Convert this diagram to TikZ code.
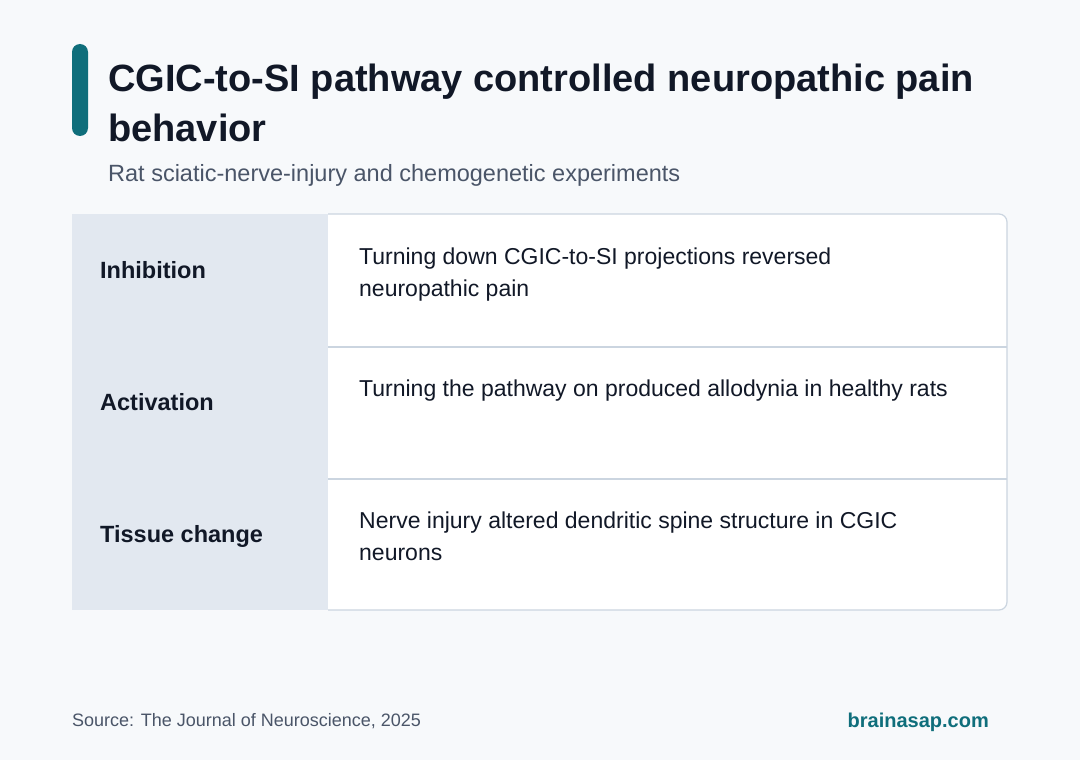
\documentclass[tikz,border=0pt]{standalone}
\usepackage{fontspec}
\setmainfont{Liberation Sans}
\definecolor{bg}{HTML}{F7F9FB}
\definecolor{teal}{HTML}{0F6E7B}
\definecolor{ink}{HTML}{111827}
\definecolor{sub}{HTML}{4A5568}
\definecolor{lcol}{HTML}{E2E8F0}
\definecolor{bord}{HTML}{CBD5E0}
\begin{document}
\begin{tikzpicture}[x=1pt,y=-1pt,
  lab/.style={anchor=base west,font=\fontsize{23.5}{28}\selectfont\bfseries,text=ink,inner sep=0},
  txt/.style={anchor=base west,font=\fontsize{23}{28}\selectfont,text=ink,inner sep=0}]
\fill[bg] (0,0) rectangle (1080,760);
\useasboundingbox (0,0) rectangle (1080,760);
\fill[teal,rounded corners=8] (72,44) rectangle (88,136);
\node[anchor=base west,inner sep=0,font=\fontsize{38}{44}\selectfont\bfseries,text=ink] (t1) at (108,92) {CGIC-to-SI pathway controlled neuropathic pain};
\node[anchor=base west,inner sep=0,font=\fontsize{38}{44}\selectfont\bfseries,text=ink] (t2) at (108,141) {behavior};
\node[anchor=base west,inner sep=0,font=\fontsize{23.5}{28}\selectfont,text=sub] (st) at (108,181) {Rat sciatic-nerve-injury and chemogenetic experiments};
% table
\fill[white,rounded corners=8] (72,214) rectangle (1007,610);
\fill[lcol] (72,214) rectangle (328,610);
\draw[bord,line width=1.2,rounded corners=8] (328,214) -- (1007,214) -- (1007,610) -- (328,610);
\draw[bord,line width=1.2] (328,347) -- (1007,347);
\draw[bord,line width=1.2] (328,479) -- (1007,479);
\node[lab] (l1) at (100,278) {Inhibition};
\node[lab] (l2) at (100,410) {Activation};
\node[lab] (l3) at (100,542) {Tissue change};
\node[txt] (r1a) at (359,264) {Turning down CGIC-to-SI projections reversed};
\node[txt] (r1b) at (359,296) {neuropathic pain};
\node[txt] (r2) at (359,396) {Turning the pathway on produced allodynia in healthy rats};
\node[txt] (r3a) at (359,528) {Nerve injury altered dendritic spine structure in CGIC};
\node[txt] (r3b) at (359,560) {neurons};
\node[anchor=base west,inner sep=0,font=\fontsize{18}{22}\selectfont,text=sub] (src) at (72,726) {Source: The Journal of Neuroscience, 2025};
\node[anchor=base east,inner sep=0,font=\fontsize{20}{24}\selectfont\bfseries,text=teal] (br) at (989,727) {brainasap.com};
\end{tikzpicture}
\end{document}
